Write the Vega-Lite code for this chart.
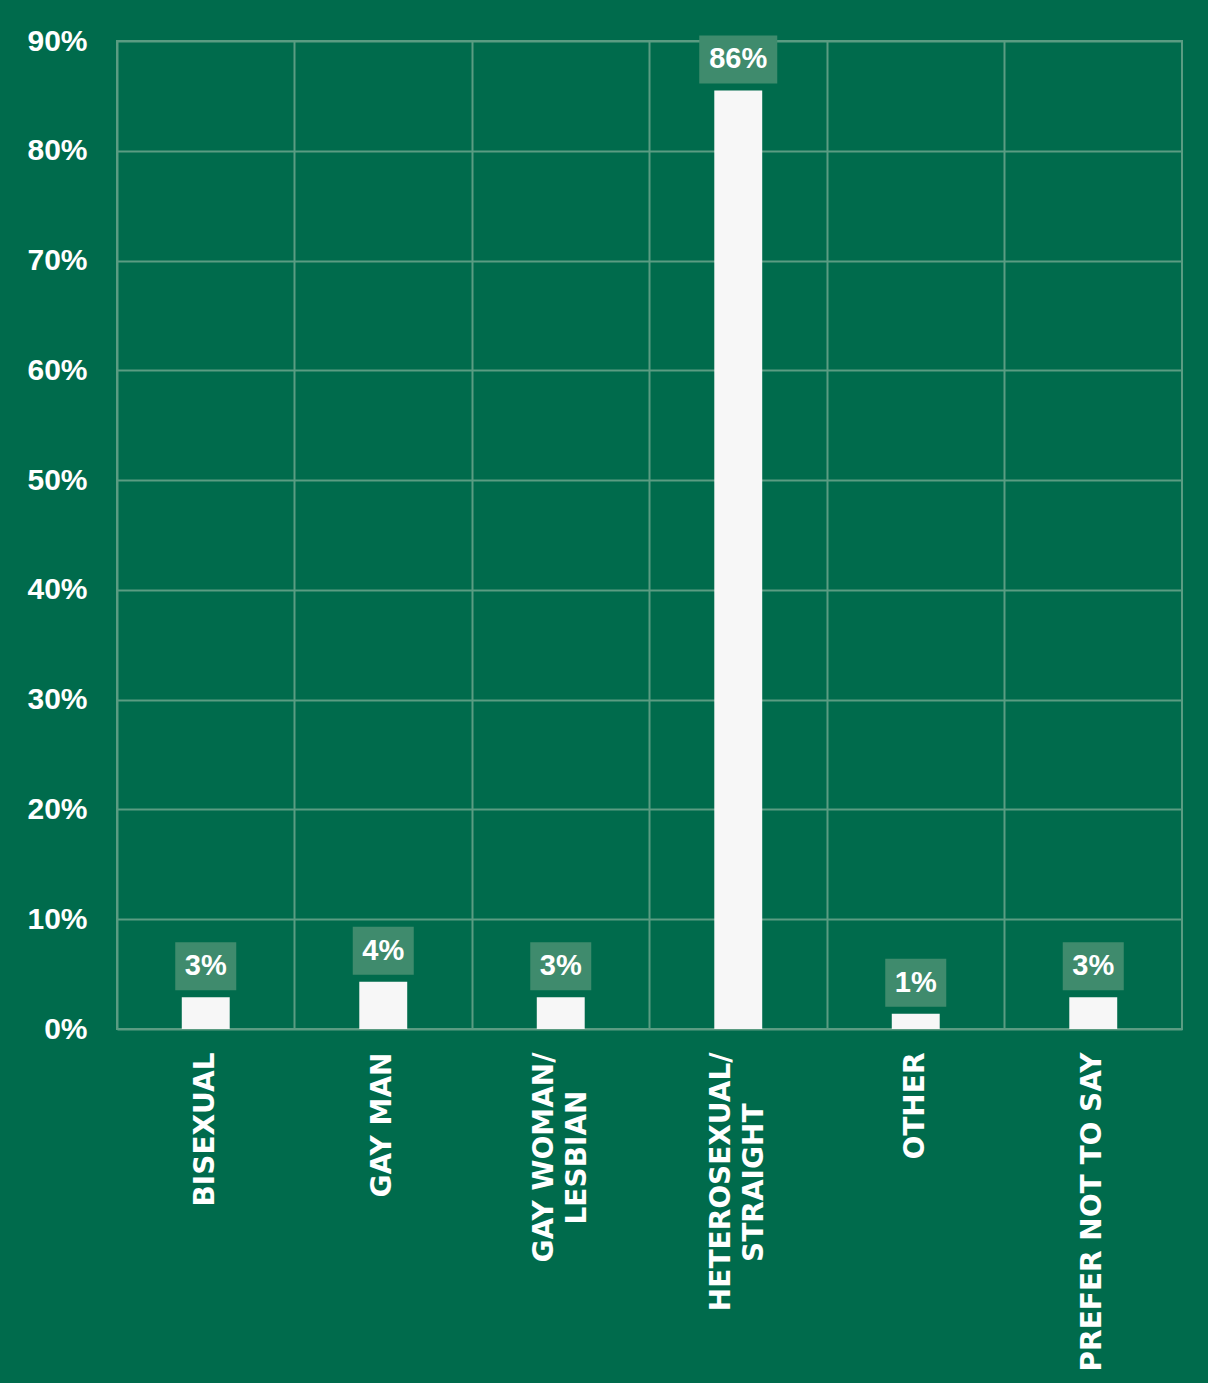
{
  "$schema": "https://vega.github.io/schema/vega-lite/v6.json",
  "width": 1065,
  "height": 988,
  "autosize": {"type": "none"},
  "padding": {"left": 117, "top": 41, "right": 26, "bottom": 354},
  "background": "#006b4c",
  "config": {
    "view": {"stroke": "#5b9c82", "strokeWidth": 2},
    "font": "Liberation Sans"
  },
  "data": {
    "values": [
      {"category": "BISEXUAL", "value": 2.9, "label": "3%"},
      {"category": "GAY MAN", "value": 4.3, "label": "4%"},
      {"category": "GAY WOMAN/ LESBIAN", "value": 2.9, "label": "3%"},
      {"category": "HETEROSEXUAL/ STRAIGHT", "value": 85.5, "label": "86%"},
      {"category": "OTHER", "value": 1.4, "label": "1%"},
      {"category": "PREFER NOT TO SAY", "value": 2.9, "label": "3%"}
    ]
  },
  "encoding": {
    "y": {
      "field": "value",
      "type": "quantitative",
      "scale": {"domain": [0, 90], "nice": false},
      "axis": {
        "title": null,
        "values": [0, 10, 20, 30, 40, 50, 60, 70, 80, 90],
        "labelExpr": "datum.value + '%'",
        "labelFont": "Liberation Sans",
        "labelFontWeight": "bold",
        "labelFontSize": 30,
        "labelColor": "#ffffff",
        "labelPadding": 30,
        "ticks": false,
        "domain": false,
        "grid": true,
        "gridColor": "#5b9c82",
        "gridWidth": 2
      }
    }
  },
  "layer": [
    {
      "mark": {"type": "bar", "color": "#f7f7f7", "width": {"band": 0.27}},
      "encoding": {
        "x": {
          "field": "category",
          "type": "nominal",
          "sort": null,
          "scale": {"paddingInner": 0, "paddingOuter": 0},
          "axis": {
            "orient": "bottom",
            "title": null,
            "labels": false,
            "ticks": false,
            "domain": false,
            "grid": true,
            "bandPosition": 0,
            "gridColor": "#5b9c82",
            "gridWidth": 2
          }
        }
      }
    },
    {
      "transform": [{"filter": "length(datum.label) == 2"}],
      "mark": {"type": "bar", "color": "#3f8b6d", "width": 61, "yOffset": -55, "y2Offset": -7},
      "encoding": {
        "x": {
          "field": "category",
          "type": "nominal",
          "sort": null,
          "axis": {
            "orient": "bottom",
            "title": null,
            "grid": false,
            "ticks": false,
            "domain": false,
            "labelAngle": 270,
            "labelAlign": "right",
            "labelBaseline": "middle",
            "labelPadding": {
              "condition": {"test": "datum.value == 'GAY WOMAN/ LESBIAN'", "value": 61},
              "value": 74
            },
            "labelOffset": 17,
            "labelLimit": 0,
            "labelOverlap": false,
            "labelFont": "DejaVu Sans",
            "labelFontWeight": "bold",
            "labelFontSize": 28,
            "labelColor": "#ffffff",
            "labelExpr": "indexof(datum.label, '/') >= 0 ? substring(datum.label, indexof(datum.label, '/') + 2) : ''"
          }
        },
        "y2": {"field": "value"}
      }
    },
    {
      "transform": [{"filter": "length(datum.label) == 3"}],
      "mark": {"type": "bar", "color": "#3f8b6d", "width": 78, "yOffset": -55, "y2Offset": -7},
      "encoding": {
        "x": {"field": "category", "type": "nominal", "sort": null, "axis": null},
        "y2": {"field": "value"}
      }
    },
    {
      "mark": {
        "type": "text",
        "color": "#ffffff",
        "font": "Liberation Sans",
        "fontWeight": "bold",
        "fontSize": 29,
        "baseline": "middle",
        "align": "center",
        "dy": -31
      },
      "encoding": {
        "x": {
          "field": "category",
          "type": "nominal",
          "sort": null,
          "axis": {
            "orient": "bottom",
            "title": null,
            "grid": false,
            "ticks": false,
            "domain": false,
            "labelAngle": 270,
            "labelAlign": "right",
            "labelBaseline": "middle",
            "labelPadding": 23,
            "labelOffset": {
              "condition": {"test": "indexof(datum.value, '/') >= 0", "value": -16},
              "value": 0
            },
            "labelLimit": 0,
            "labelOverlap": false,
            "labelFont": "DejaVu Sans",
            "labelFontWeight": "bold",
            "labelFontSize": 28,
            "labelColor": "#ffffff",
            "labelExpr": "indexof(datum.label, '/') >= 0 ? substring(datum.label, 0, indexof(datum.label, '/') + 1) : datum.label"
          }
        },
        "text": {"field": "label"}
      }
    }
  ],
  "resolve": {"axis": {"x": "independent"}}
}
